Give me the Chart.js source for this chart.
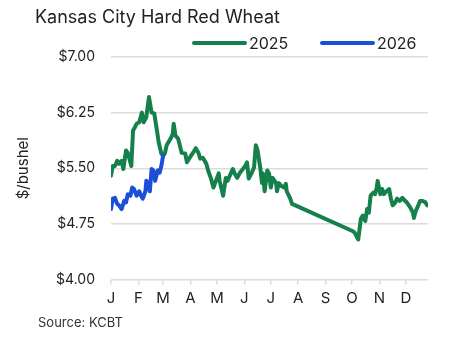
<!DOCTYPE html>
<html>
<head>
<meta charset="utf-8">
<script src="https://cdn.jsdelivr.net/npm/chart.js@4"></script>
<style>
  html, body { margin: 0; padding: 0; background: #fff; }
  #wheat { display: block; }
</style>
</head>
<body>
<canvas id="wheat" width="467" height="339"></canvas>
<script>
'use strict';

// day of year for each price, and the price in $/bushel
const days2025 = [0, 2, 4.5, 7, 9, 12, 14, 17, 19, 23, 25, 27, 29, 32, 35, 37, 40, 43, 46, 49,
  52, 54, 57, 59, 61, 63, 66, 68, 70, 71, 73, 76, 80, 84, 86, 89, 93, 96, 99, 101,
  104, 108, 110, 113, 116, 120, 122, 123, 127, 130, 132, 136, 138, 140, 143, 146, 148, 152, 154, 156,
  159, 162, 164, 166, 169, 171, 172, 174, 177, 179, 181, 183, 187, 188, 190, 193, 196, 198, 199, 203,
  205, 274, 276, 280, 283, 285, 288, 290, 292, 294, 297, 299, 301, 302, 305, 307, 309, 312, 315, 317,
  319, 322, 324, 327, 330, 333, 335, 339, 342, 343, 345, 348, 350, 353, 356, 358];
const price2025 = [5.40, 5.53, 5.53, 5.60, 5.56, 5.60, 5.49, 5.74, 5.71, 5.53, 6.01, 6.05, 6.10, 6.12, 6.25, 6.12, 6.19, 6.46, 6.25, 6.24,
  6.01, 5.85, 5.70, 5.67, 5.70, 5.81, 5.87, 5.91, 5.97, 6.10, 5.94, 5.90, 5.71, 5.70, 5.58, 5.64, 5.71, 5.77, 5.71, 5.63,
  5.64, 5.56, 5.47, 5.37, 5.24, 5.37, 5.43, 5.33, 5.13, 5.37, 5.33, 5.44, 5.49, 5.43, 5.37, 5.44, 5.47, 5.53, 5.58, 5.36,
  5.43, 5.51, 5.81, 5.74, 5.51, 5.30, 5.43, 5.19, 5.47, 5.43, 5.24, 5.37, 5.30, 5.19, 5.30, 5.26, 5.24, 5.29, 5.19, 5.09,
  5.02, 4.65, 4.63, 4.54, 4.82, 4.86, 4.79, 4.95, 4.90, 5.13, 5.17, 5.15, 5.24, 5.33, 5.15, 5.22, 5.15, 5.19, 5.22, 5.09,
  5.00, 5.04, 5.09, 5.06, 5.10, 5.06, 5.04, 4.97, 4.90, 4.83, 4.92, 5.00, 5.06, 5.06, 5.04, 5.00];

const days2026 = [0, 2, 4.5, 7, 9, 12, 15, 17, 19, 22, 24, 26, 29, 32, 34, 36, 39, 40, 42, 44,
  46, 48, 50, 52, 53, 55, 57, 59];
const price2026 = [4.95, 5.09, 5.10, 5.02, 5.00, 4.95, 5.06, 5.04, 5.15, 5.13, 5.24, 5.22, 5.13, 5.19, 5.13, 5.09, 5.19, 5.33, 5.29, 5.19,
  5.49, 5.47, 5.33, 5.43, 5.47, 5.44, 5.53, 5.67];

const monthStarts = [0, 31, 59, 90, 120, 151, 181, 212, 243, 273, 304, 334];
const monthLabels = ['J', 'F', 'M', 'A', 'M', 'J', 'J', 'A', 'S', 'O', 'N', 'D'];
const priceTicks = [4.00, 4.75, 5.50, 6.25, 7.00];

const GREEN = '#16804c';
const BLUE = '#1b4fd8';
const FONT = 'Inter, "Noto Sans", sans-serif';

function toPoints(days, prices) {
  return days.map((d, i) => ({ x: d, y: prices[i] }));
}

// title, legend and source line
const decorations = {
  id: 'decorations',
  afterDraw(chart) {
    const ctx = chart.ctx;
    ctx.save();
    ctx.fillStyle = '#222';
    ctx.textBaseline = 'alphabetic';
    ctx.textAlign = 'left';
    ctx.font = '18px ' + FONT;
    ctx.fillText('Kansas City Hard Red Wheat', 35, 23);

    const keys = [
      { ds: chart.data.datasets[1], x: 194 },
      { ds: chart.data.datasets[0], x: 322 }
    ];
    ctx.font = '16px ' + FONT;
    keys.forEach(k => {
      ctx.strokeStyle = k.ds.borderColor;
      ctx.lineWidth = 4;
      ctx.lineCap = 'round';
      ctx.beginPath();
      ctx.moveTo(k.x, 43);
      ctx.lineTo(k.x + 51, 43);
      ctx.stroke();
      ctx.fillStyle = '#222';
      ctx.fillText(k.ds.label, k.x + 55, 49);
    });

    ctx.fillStyle = '#333';
    ctx.font = '13px ' + FONT;
    ctx.fillText('Source: KCBT', 38, 327);
    ctx.restore();
  }
};

new Chart(document.getElementById('wheat'), {
  type: 'line',
  data: {
    datasets: [{
      label: '2026',
      data: toPoints(days2026, price2026),
      borderColor: BLUE,
      order: 0
    }, {
      label: '2025',
      data: toPoints(days2025, price2025),
      borderColor: GREEN,
      order: 1
    }]
  },
  options: {
    responsive: false,
    animation: false,
    layout: { padding: { top: 57, right: 39, bottom: 0, left: 0 } },
    elements: {
      point: { radius: 0 },
      line: {
        borderWidth: 4,
        tension: 0,
        borderJoinStyle: 'round',
        borderCapStyle: 'round'
      }
    },
    plugins: {
      legend: { display: false },
      tooltip: { enabled: false }
    },
    scales: {
      x: {
        type: 'linear',
        min: 0,
        max: 359,
        afterBuildTicks: axis => { axis.ticks = monthStarts.map(v => ({ value: v })); },
        afterFit: axis => { axis.height = 59.5; },
        border: { display: false },
        grid: {
          drawOnChartArea: false,
          drawTicks: true,
          tickLength: 5,
          color: '#dcdcdc',
          lineWidth: 1.5
        },
        ticks: {
          autoSkip: false,
          maxRotation: 0,
          padding: 5,
          color: '#222',
          font: { family: FONT, size: 15 },
          callback: (v, i) => monthLabels[i]
        }
      },
      y: {
        min: 4,
        max: 7,
        afterBuildTicks: axis => { axis.ticks = priceTicks.map(v => ({ value: v })); },
        afterFit: axis => { axis.width = 111; },
        border: { display: false },
        grid: {
          drawTicks: false,
          color: '#dcdcdc',
          lineWidth: 1.5
        },
        ticks: {
          padding: 16,
          color: '#222',
          font: { family: FONT, size: 14 },
          callback: v => '$' + v.toFixed(2)
        },
        title: {
          display: true,
          text: '$/bushel',
          color: '#222',
          padding: { top: 14, bottom: 0 },
          font: { family: FONT, size: 15 }
        }
      }
    }
  },
  plugins: [decorations]
});
</script>
</body>
</html>
